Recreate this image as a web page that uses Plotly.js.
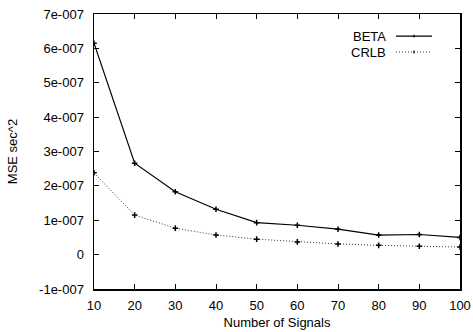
<!DOCTYPE html>
<html>
<head>
<meta charset="utf-8">
<script src="https://cdn.plot.ly/plotly-3.0.1.min.js"></script>
<style>html,body{margin:0;padding:0;background:#fff;}#chart{width:473px;height:332px;}</style>
</head>
<body>
<div id="chart"></div>
<script>
const signals = [10, 20, 30, 40, 50, 60, 70, 80, 90, 100];
const beta = [6.15e-7, 2.66e-7, 1.83e-7, 1.32e-7, 0.93e-7, 0.855e-7, 0.74e-7, 0.57e-7, 0.585e-7, 0.50e-7];
const crlb = [2.38e-7, 1.15e-7, 0.77e-7, 0.57e-7, 0.45e-7, 0.37e-7, 0.31e-7, 0.27e-7, 0.245e-7, 0.22e-7];
const yTickVals = [-1e-7, 0, 1e-7, 2e-7, 3e-7, 4e-7, 5e-7, 6e-7, 7e-7];
const yTickText = ['-1e-007', '0', '1e-007', '2e-007', '3e-007', '4e-007', '5e-007', '6e-007', '7e-007'];
const xTickVals = [10, 20, 30, 40, 50, 60, 70, 80, 90, 100];
const seriesNames = ['BETA', 'CRLB'];

const font = {family: 'Liberation Sans, Arial, sans-serif', size: 13, color: '#000'};
const dotDash = '1px,2px';

const traces = [
  {x: signals, y: beta, name: seriesNames[0], mode: 'lines+markers',
   line: {color: '#000', width: 1.2},
   marker: {symbol: 'cross-thin-open', size: 4, color: '#000', line: {width: 1.5, color: '#000'}}},
  {x: signals, y: crlb, name: seriesNames[1], mode: 'lines+markers',
   line: {color: '#333', width: 1, dash: dotDash},
   marker: {symbol: 'cross-thin-open', size: 4, color: '#000', line: {width: 1.5, color: '#000'}}}
];

// manual gnuplot-style legend (text on left, sample on right)
const legX0 = (396 - 94) / 366, legX1 = (432 - 94) / 366, legXm = (legX0 + legX1) / 2;
const legY = [1 - (35.7 - 13.5) / 276, 1 - (51.7 - 13.5) / 276];
const tickH = 1.5 / 276;
const shapes = [
  {type: 'line', xref: 'paper', yref: 'paper', x0: legX0, x1: legX1, y0: legY[0], y1: legY[0], line: {color: '#000', width: 1.2}},
  {type: 'line', xref: 'paper', yref: 'paper', x0: legX0, x1: legX1, y0: legY[1], y1: legY[1], line: {color: '#333', width: 1, dash: dotDash}},
  {type: 'line', xref: 'paper', yref: 'paper', x0: legXm, x1: legXm, y0: legY[0] - tickH, y1: legY[0] + tickH, line: {color: '#000', width: 1.2}},
  {type: 'line', xref: 'paper', yref: 'paper', x0: legXm, x1: legXm, y0: legY[1] - tickH, y1: legY[1] + tickH, line: {color: '#000', width: 1.2}}
];
const annotations = seriesNames.map((n, i) => ({
  xref: 'paper', yref: 'paper', x: (388 - 94) / 366, y: legY[i], xanchor: 'right', yanchor: 'middle',
  text: n, showarrow: false, font: font
}));

const layout = {
  width: 473, height: 332,
  margin: {l: 94, r: 13, t: 13.5, b: 42.5, pad: 0},
  paper_bgcolor: '#fff', plot_bgcolor: '#fff',
  font: font,
  showlegend: false,
  xaxis: {
    range: [10, 100], tickvals: xTickVals, ticks: 'inside', ticklen: 5, tickwidth: 1, tickcolor: '#000',
    showline: true, linecolor: '#000', linewidth: 1.5, mirror: 'ticks', showgrid: false, zeroline: false,
    ticklabelstandoff: 4,
    title: {text: 'Number of Signals', font: font, standoff: 6}
  },
  yaxis: {
    range: [-1e-7, 7e-7], tickvals: yTickVals, ticktext: yTickText, ticks: 'inside', ticklen: 5, tickwidth: 1, tickcolor: '#000',
    showline: true, linecolor: '#000', linewidth: 1.5, mirror: 'ticks', showgrid: false, zeroline: false,
    ticklabelstandoff: 6,
    title: {text: 'MSE sec^2', font: font, standoff: 18}
  },
  shapes: shapes,
  annotations: annotations
};

Plotly.newPlot('chart', traces, layout, {staticPlot: true, displayModeBar: false});
</script>
</body>
</html>
